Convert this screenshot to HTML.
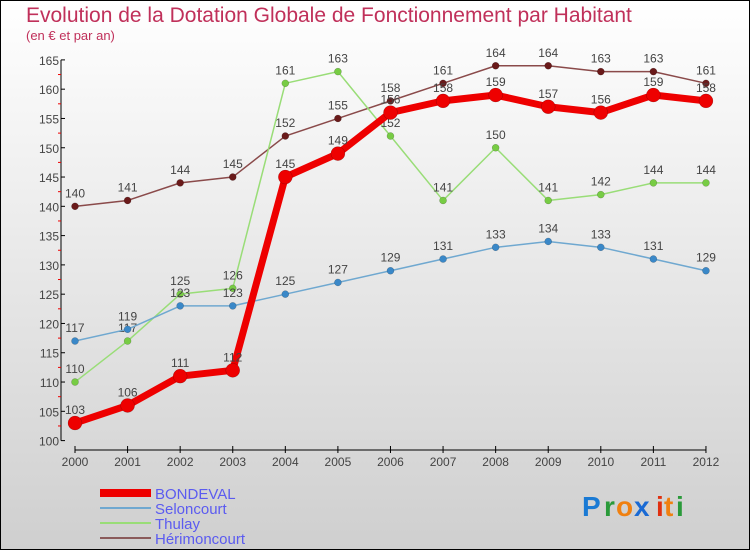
<!DOCTYPE html>
<html><head><meta charset="utf-8"><style>
body{margin:0;width:750px;height:550px;overflow:hidden;font-family:"Liberation Sans",sans-serif}
#c{position:absolute;left:0;top:0;width:748px;height:548px;border:1px solid #000;background:linear-gradient(#fff 0%,#ececec 40%,#cfcfcf 100%)}
</style></head><body>
<div id="c">
<svg width="750" height="550" id="svg" style="position:absolute;left:-1px;top:-1px">
<text x="26" y="22" font-size="21" fill="#c0305a">Evolution de la Dotation Globale de Fonctionnement par Habitant</text>
<text x="26" y="40" font-size="13" fill="#c0305a">(en € et par an)</text>
<g id="axes"></g><g id="series"></g>
<g>
<rect x="100" y="489" width="51" height="8" fill="#e00"/>
<text x="155" y="499" font-size="15" fill="#5b5bf0">BONDEVAL</text>
<rect x="100" y="507" width="51" height="2" fill="#6fa8d0"/>
<text x="155" y="514" font-size="15" fill="#5b5bf0">Seloncourt</text>
<rect x="100" y="522" width="51" height="2" fill="#99dd77"/>
<text x="155" y="529" font-size="15" fill="#5b5bf0">Thulay</text>
<rect x="100" y="537" width="51" height="2" fill="#8a5a5a"/>
<text x="155" y="544" font-size="15" fill="#5b5bf0">Hérimoncourt</text>
</g>
<g font-size="28" font-weight="bold">
<text x="582" y="516" fill="#1a7ad4">P</text><text x="604" y="516" fill="#2a9a3a">r</text><text x="616" y="516" fill="#f08010">o</text><text x="634" y="516" fill="#1a6ad4">x</text><text x="656" y="516" fill="#e03010">i</text><text x="664" y="516" fill="#f08010">t</text><text x="676" y="516" fill="#2a9a3a">i</text>
</g>
</svg></div>
<script>
const years=["2000","2001","2002","2003","2004","2005","2006","2007","2008","2009","2010","2011","2012"];
const bondeval=[103,106,111,112,145,149,156,158,159,157,156,159,158];
const seloncourt=[117,119,123,123,125,127,129,131,133,134,133,131,129];
const thulay=[110,117,125,126,161,163,152,141,150,141,142,144,144];
const herimoncourt=[140,141,144,145,152,155,158,161,164,164,163,163,161];
const yTicks=[100,105,110,115,120,125,130,135,140,145,150,155,160,165];
const NS="http://www.w3.org/2000/svg";
const x=i=>75+i*52.58;
const y=v=>440.6-(v-100)*5.857;
function mk(t,a,p){const e=document.createElementNS(NS,t);for(const k in a)e.setAttribute(k,a[k]);p.appendChild(e);return e;}
const ax=document.getElementById('axes');
let l=mk('line',{x1:61,y1:y(165),x2:61,y2:y(100),stroke:'#000'},ax);


l=mk('line',{x1:75,y1:450,x2:706,y2:450,stroke:'#000'},ax);


yTicks.forEach(v=>{
 mk('line',{x1:61,y1:y(v),x2:65,y2:y(v),stroke:'#000'},ax);
 if(v<165)mk('line',{x1:58,y1:y(v+2.5),x2:61,y2:y(v+2.5),stroke:'#e00'},ax);
 const t=mk('text',{x:59,y:y(v)+5,'font-size':12,fill:'#444','text-anchor':'end'},ax);
 t.textContent=v;
 
 
});
years.forEach((yr,i)=>{
 mk('line',{x1:x(i),y1:446,x2:x(i),y2:453,stroke:'#000'},ax);
 const t=mk('text',{x:x(i),y:466,'font-size':12,fill:'#444','text-anchor':'middle'},ax);
 t.textContent=yr;
 
 
});
const sg=document.getElementById('series');
function draw(name,data,color,dot,w,r){
 const g=mk('g',{},sg);
 
 
 mk('polyline',{points:data.map((v,i)=>x(i)+','+y(v)).join(' '),fill:'none',stroke:color,'stroke-width':w,'stroke-linejoin':'round'},g);
 data.forEach((v,i)=>{
  const c=mk('circle',{cx:x(i),cy:y(v),r:r,fill:dot,stroke:'rgba(0,0,0,0.3)','stroke-width':0.5},g);
  
  
  const t=mk('text',{x:x(i),y:y(v)-9,'font-size':12,fill:'#444','text-anchor':'middle'},g);
  t.textContent=v;
  
  
 });
}
draw('herimoncourt',herimoncourt,'#8a4a4a','#6a1a1a',1.5,3.5);
draw('thulay',thulay,'#99dd77','#77cc44',1.5,3.5);
draw('seloncourt',seloncourt,'#6fa8d0','#3a88c8',1.5,3.5);
draw('bondeval',bondeval,'#ee0000','#ee0000',7,7);
</script>
</body></html>
